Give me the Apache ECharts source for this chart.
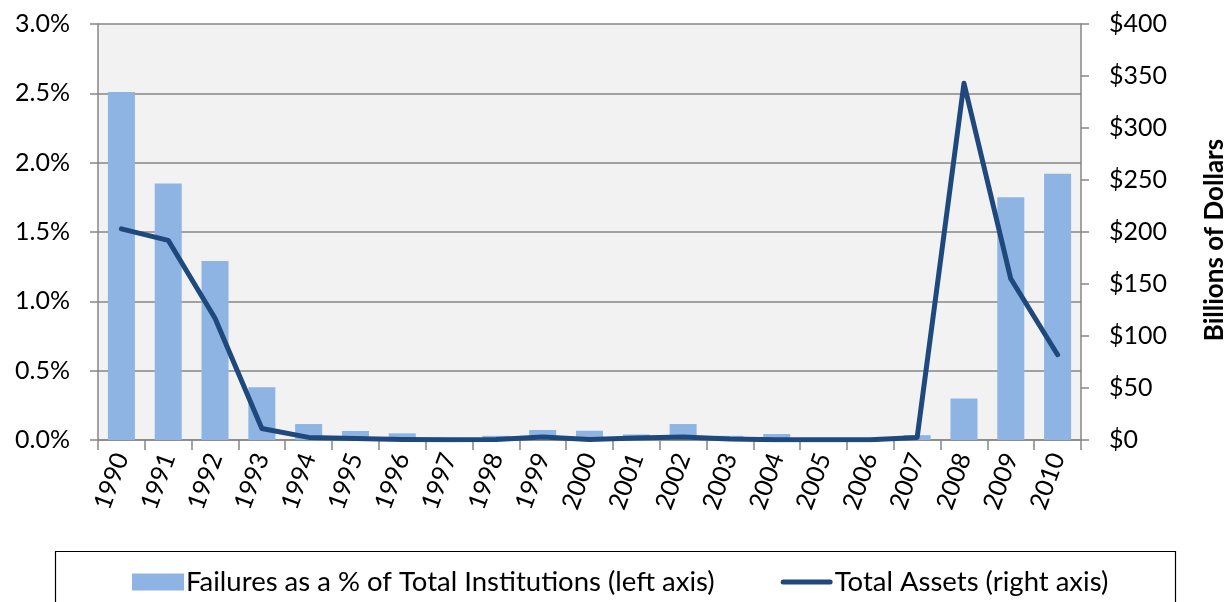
<!DOCTYPE html>
<html>
<head>
<meta charset="utf-8">
<script src="https://cdn.jsdelivr.net/npm/echarts@6/dist/echarts.min.js"></script>
<style>
  html, body { margin: 0; padding: 0; background: #fff; }
  #chart { width: 1232px; height: 602px; }
</style>
</head>
<body>
<div id="chart"></div>
<script>
// Years on the category axis
const years = ['1990','1991','1992','1993','1994','1995','1996','1997','1998','1999','2000',
               '2001','2002','2003','2004','2005','2006','2007','2008','2009','2010'];
// Failed institutions as a percent of all institutions (left axis)
const failurePct = [2.51, 1.85, 1.29, 0.38, 0.115, 0.065, 0.048, 0.015, 0.03, 0.072, 0.067,
                    0.04, 0.115, 0.03, 0.043, 0, 0, 0.035, 0.30, 1.75, 1.92];
// Total assets of failed institutions, billions of dollars (right axis)
const totalAssets = [203, 192, 117, 11, 2.5, 1.5, 0.5, 0.3, 0.5, 2.8, 0.5,
                     2, 3, 1, 0.3, 0.2, 0.3, 2.5, 343, 155, 82];

const FONT = 'Lato';
const GRAY = '#868686';
const BAR_COLOR = '#8EB4E3';
const LINE_COLOR = '#1F497D';

const chart = echarts.init(document.getElementById('chart'), null, { renderer: 'canvas' });
chart.setOption({
  animation: false,
  textStyle: { fontFamily: FONT, color: '#000' },
  grid: {
    left: 98, right: 151, top: 24, bottom: 162,
    containLabel: false,
    outerBoundsMode: 'none',
    show: true, backgroundColor: '#F2F2F2', borderWidth: 0
  },
  legend: {
    left: 127, top: 563,
    itemGap: 66,
    itemWidth: 52, itemHeight: 17,
    textStyle: { fontFamily: FONT, fontSize: 27.5, color: '#000', padding: [0, 0, 0, -3] },
    data: [
      { name: 'Failures as a % of Total Institutions (left axis)', icon: 'rect',
        itemStyle: { color: BAR_COLOR } },
      { name: 'Total Assets (right axis)', icon: 'path://M2.5,0 L49.5,0 A2.5,2.5 0 0 1 49.5,5 L2.5,5 A2.5,2.5 0 0 1 2.5,0 Z',
        itemStyle: { color: LINE_COLOR }, lineStyle: { width: 0 } }
    ]
  },
  graphic: [{
    type: 'rect',
    shape: { x: 55.5, y: 551.5, width: 1120, height: 60 },
    style: { fill: 'none', stroke: '#000', lineWidth: 1.2 },
    silent: true
  }, {
    type: 'text',
    x: 1215, y: 240,
    rotation: Math.PI / 2,
    style: {
      text: 'Billions of Dollars',
      fontSize: 26,
      fontWeight: 'bold',
      fontFamily: FONT,
      fill: '#000',
      align: 'center',
      verticalAlign: 'middle'
    },
    silent: true
  }],
  xAxis: {
    type: 'category',
    data: years,
    boundaryGap: true,
    axisLine: { lineStyle: { color: GRAY, width: 1.5 } },
    axisTick: { show: true, length: 10, lineStyle: { color: GRAY, width: 1.5 } },
    axisLabel: { rotate: 70, fontSize: 25, margin: 14, color: '#000', fontFamily: FONT, interval: 0 }
  },
  yAxis: [{
    type: 'value',
    min: 0, max: 3, interval: 0.5,
    axisLine: { show: true, lineStyle: { color: GRAY, width: 1.5 } },
    axisTick: { show: true, length: 8, lineStyle: { color: GRAY, width: 1.5 } },
    axisLabel: { fontSize: 25, margin: 28, color: '#000', fontFamily: FONT,
                 formatter: v => v.toFixed(1) + '%' },
    splitLine: { show: true, lineStyle: { color: GRAY, width: 1.5 } }
  }, {
    type: 'value',
    min: 0, max: 400, interval: 50,
    position: 'right',
    axisLine: { show: true, lineStyle: { color: GRAY, width: 1.5 } },
    axisTick: { show: true, length: 8, lineStyle: { color: GRAY, width: 1.5 } },
    axisLabel: { fontSize: 25, margin: 28, color: '#000', fontFamily: FONT,
                 formatter: v => '$' + v },
    splitLine: { show: false }
  }],
  series: [{
    name: 'Failures as a % of Total Institutions (left axis)',
    type: 'bar',
    yAxisIndex: 0,
    data: failurePct,
    barWidth: 27,
    itemStyle: { color: BAR_COLOR }
  }, {
    name: 'Total Assets (right axis)',
    type: 'line',
    yAxisIndex: 1,
    data: totalAssets,
    symbol: 'none',
    lineStyle: { color: LINE_COLOR, width: 5, join: 'round', cap: 'round' },
    itemStyle: { color: LINE_COLOR }
  }]
});
</script>
</body>
</html>
